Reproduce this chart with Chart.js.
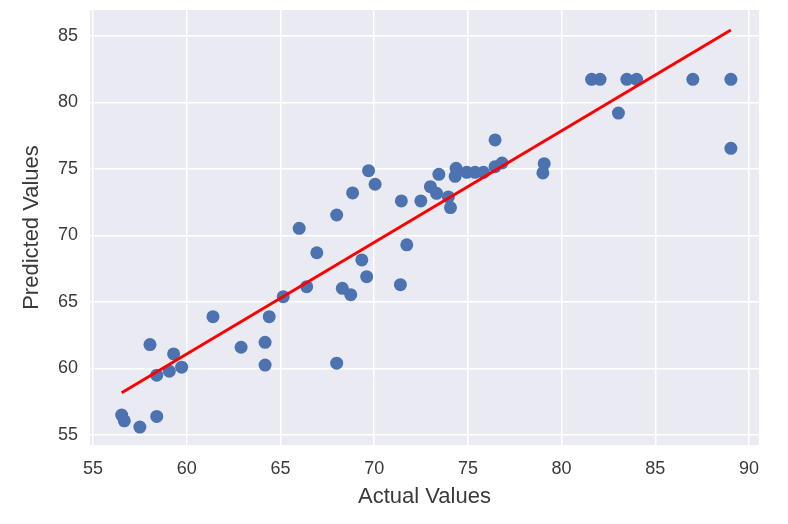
<!DOCTYPE html>
<html>
<head>
<meta charset="utf-8">
<script src="https://cdn.jsdelivr.net/npm/chart.js@4"></script>
<style>
  html, body { margin: 0; padding: 0; background: #ffffff; }
  #wrap { width: 788px; height: 524px; }
</style>
</head>
<body>
<div id="wrap"><canvas id="scatter-chart" width="788" height="524"></canvas></div>
<script>
const actualValues = [
    56.53, 56.67, 57.5, 58.4, 58.04, 58.4, 59.07, 59.3, 59.73, 61.4,
    62.9, 64.18, 64.18, 64.4, 65.15, 66.4, 68.0, 68.3, 68.75, 69.34,
    69.6, 71.4, 71.74, 66.0, 66.94, 68.0, 68.85, 69.7, 70.05, 71.45,
    72.49, 73.0, 73.33, 73.45, 73.96, 74.07, 74.37, 74.32, 74.94, 75.38,
    75.83, 76.45, 76.82, 76.45, 79.07, 79.0, 81.6, 82.05, 83.48, 84.0,
    83.03, 87.0, 89.03, 89.03
];
const predictedValues = [
    56.5, 56.07, 55.6, 56.4, 61.8, 59.5, 59.8, 61.1, 60.1, 63.9,
    61.6, 61.97, 60.26, 63.9, 65.4, 66.15, 60.4, 66.03, 65.55, 68.16,
    66.9, 66.3, 69.3, 70.54, 68.7, 71.54, 73.2, 74.87, 73.85, 72.6,
    72.6, 73.67, 73.17, 74.6, 72.9, 72.1, 75.05, 74.45, 74.75, 74.75,
    74.75, 75.17, 75.45, 77.18, 75.4, 74.7, 81.74, 81.74, 81.74, 81.74,
    79.2, 81.74, 81.74, 76.55
];
// fitted line end points
const fitX = [56.53, 89.03];
const fitY = [58.18, 85.45];

const xTicks = [55, 60, 65, 70, 75, 80, 85, 90];
const yTicks = [55, 60, 65, 70, 75, 80, 85];

const textColor = '#3a3a3a';
const fontFamily = '"Liberation Sans", Arial, sans-serif';

// seaborn style grey panel behind the plot
const panelBackground = {
    id: 'panelBackground',
    beforeDraw(chart) {
        const {ctx, chartArea} = chart;
        ctx.save();
        ctx.fillStyle = '#EAEAF2';
        ctx.fillRect(chartArea.left, chartArea.top,
            chartArea.right - chartArea.left, chartArea.bottom - chartArea.top);
        ctx.restore();
    }
};

function loadScatterChart() {
    const ctx = document.getElementById('scatter-chart').getContext('2d');
    const points = actualValues.map((v, i) => ({x: v, y: predictedValues[i]}));
    const fitLine = fitX.map((v, i) => ({x: v, y: fitY[i]}));

    new Chart(ctx, {
        type: 'scatter',
        data: {
            datasets: [{
                type: 'line',
                label: 'Fit',
                data: fitLine,
                borderColor: '#FF0000',
                borderWidth: 3,
                pointRadius: 0,
                fill: false,
                order: 0
            }, {
                label: 'Predicted',
                data: points,
                backgroundColor: '#4C72B0',
                borderColor: '#4C72B0',
                borderWidth: 0,
                pointRadius: 6.5,
                order: 1
            }]
        },
        options: {
            responsive: false,
            animation: false,
            devicePixelRatio: 1,
            layout: {padding: {left: 0, right: 29, top: 10, bottom: 0}},
            plugins: {
                legend: {display: false},
                tooltip: {enabled: false}
            },
            scales: {
                x: {
                    type: 'linear',
                    min: 54.84,
                    max: 90.53,
                    afterBuildTicks: (scale) => { scale.ticks = xTicks.map(v => ({value: v})); },
                    afterFit: (scale) => {
                        scale.height = 79;
                        scale.paddingLeft = 0;
                        scale.paddingRight = 0;
                    },
                    border: {display: false},
                    grid: {color: '#ffffff', lineWidth: 1.5, drawTicks: false},
                    ticks: {
                        color: textColor,
                        padding: 13,
                        maxRotation: 0,
                        font: {family: fontFamily, size: 18}
                    },
                    title: {
                        display: true,
                        text: 'Actual Values',
                        color: textColor,
                        padding: {top: 0, bottom: 14},
                        font: {family: fontFamily, size: 22, lineHeight: 1.2}
                    }
                },
                y: {
                    type: 'linear',
                    min: 54.25,
                    max: 86.95,
                    afterBuildTicks: (scale) => { scale.ticks = yTicks.map(v => ({value: v})); },
                    afterFit: (scale) => {
                        scale.width = 90;
                        scale.paddingTop = 0;
                        scale.paddingBottom = 0;
                    },
                    border: {display: false},
                    grid: {color: '#ffffff', lineWidth: 1.5, drawTicks: false},
                    ticks: {
                        color: textColor,
                        padding: 12,
                        font: {family: fontFamily, size: 18}
                    },
                    title: {
                        display: true,
                        text: 'Predicted Values',
                        color: textColor,
                        padding: {top: 19, bottom: 0},
                        font: {family: fontFamily, size: 22, lineHeight: 1.2}
                    }
                }
            }
        },
        plugins: [panelBackground]
    });
}

window.addEventListener('load', () => {
    loadScatterChart();
});
</script>
</body>
</html>
